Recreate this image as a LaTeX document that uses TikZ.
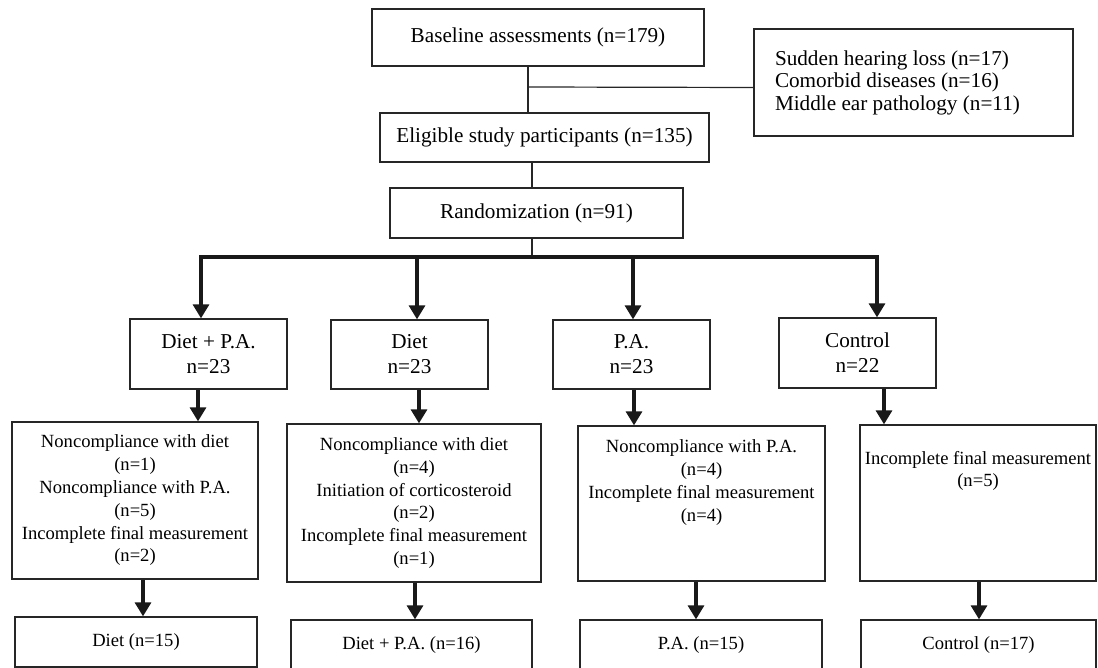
\documentclass[tikz,border=0pt]{standalone}
\usepackage{fontspec}
\setmainfont{Liberation Serif}
\usetikzlibrary{arrows.meta,positioning}

\tikzset{
  box/.style={draw=black!85, line width=1.3pt, inner sep=0pt, align=center, font=\fontsize{18.6pt}{22.8pt}\selectfont},
  bigbox/.style={box, font=\fontsize{21.2pt}{25pt}\selectfont},
  link/.style={draw=black!85, line width=1.2pt},
  bus/.style={draw=black!90, line width=3.2pt, line cap=rect},
  flow/.style={draw=black!90, line width=3.2pt, -{Triangle[width=16pt,length=14pt]}},
}

\begin{document}
\begin{tikzpicture}[x=1pt,y=-1pt]
\useasboundingbox (0,0) rectangle (1098,668);
\clip (0,0) rectangle (1098,668);
\node[bigbox,minimum width=332pt,minimum height=57pt] (base) at (538,37.5) {Baseline assessments (n=179)};
\node[bigbox,minimum width=329pt,minimum height=49pt] (elig) at (544.5,137.5) {Eligible study participants (n=135)};
\node[bigbox,minimum width=293pt,minimum height=50pt] (rand) at (536.5,213) {Randomization (n=91)};
\node[bigbox,font=\fontsize{21.2pt}{22.5pt}\selectfont,align=flush left,text width=277pt,inner xsep=21pt,minimum height=107pt] (excl) at (913.5,82.5) {Sudden hearing loss (n=17)\\Comorbid diseases (n=16)\\Middle ear pathology (n=11)};
\coordinate (spine) at (528,87);
\draw[link] (base.south -| spine) -- (elig.north -| spine);
\draw[link] (spine) -- ([yshift=-5pt]excl.west);
\coordinate (hub) at (532,257);
\draw[link] (elig.south -| hub) -- (rand.north -| hub);
\draw[link] (rand.south -| hub) -- (hub);
\node[bigbox,minimum width=157pt,minimum height=70pt] (g1) at (208.5,354) {Diet + P.A.\\n=23};
\node[bigbox,minimum width=157pt,minimum height=69pt] (g2) at (409.5,354.5) {Diet\\n=23};
\node[bigbox,minimum width=157pt,minimum height=69pt] (g3) at (631.5,354.5) {P.A.\\n=23};
\node[bigbox,minimum width=157pt,minimum height=70pt] (g4) at (857.5,353) {Control\\n=22};
\coordinate (busL) at (201,257);
\coordinate (busR) at (877,257);
\draw[bus] (busL) -- (busR);
\foreach \g/\ax in {g1/201,g2/417,g3/633,g4/877}{
  \coordinate (drop) at (\ax,257);
  \draw[flow] (drop) -- (\g.north -| drop);
}
\node[box,minimum width=246pt,minimum height=157pt] (n1) at (135,500.5) {Noncompliance with diet\\(n=1)\\Noncompliance with P.A.\\(n=5)\\Incomplete final measurement\\(n=2)};
\node[box,minimum width=254pt,minimum height=158pt] (n2) at (414,503) {Noncompliance with diet\\(n=4)\\Initiation of corticosteroid\\(n=2)\\Incomplete final measurement\\(n=1)};
\node[box,inner ysep=14pt] (n3) at (701.5,503.5) {\parbox[c][127pt][t]{247pt}{\centering Noncompliance with P.A.\\(n=4)\\Incomplete final measurement\\(n=4)}};
\node[box,inner ysep=26pt] (n4) at (978,503) {\parbox[c][104pt][t]{236pt}{\centering Incomplete final measurement\\(n=5)}};
\foreach \g/\n/\ax in {g1/n1/198,g2/n2/419,g3/n3/634,g4/n4/884}{
  \coordinate (ax) at (\ax,0);
  \draw[flow] (\g.south -| ax) -- (\n.north -| ax);
}
\node[box,minimum width=242pt,minimum height=50pt] (f1) at (136,642) {Diet (n=15)};
\node[box,minimum width=241pt,minimum height=50pt] (f2) at (411.5,645) {Diet + P.A. (n=16)};
\node[box,minimum width=242pt,minimum height=50pt] (f3) at (701,645) {P.A. (n=15)};
\node[box,minimum width=235pt,minimum height=50pt] (f4) at (978.5,645) {Control (n=17)};
\foreach \n/\f/\ax in {n1/f1/143,n2/f2/415,n3/f3/696,n4/f4/979}{
  \coordinate (ax) at (\ax,0);
  \draw[flow] (\n.south -| ax) -- (\f.north -| ax);
}
\end{tikzpicture}
\end{document}
